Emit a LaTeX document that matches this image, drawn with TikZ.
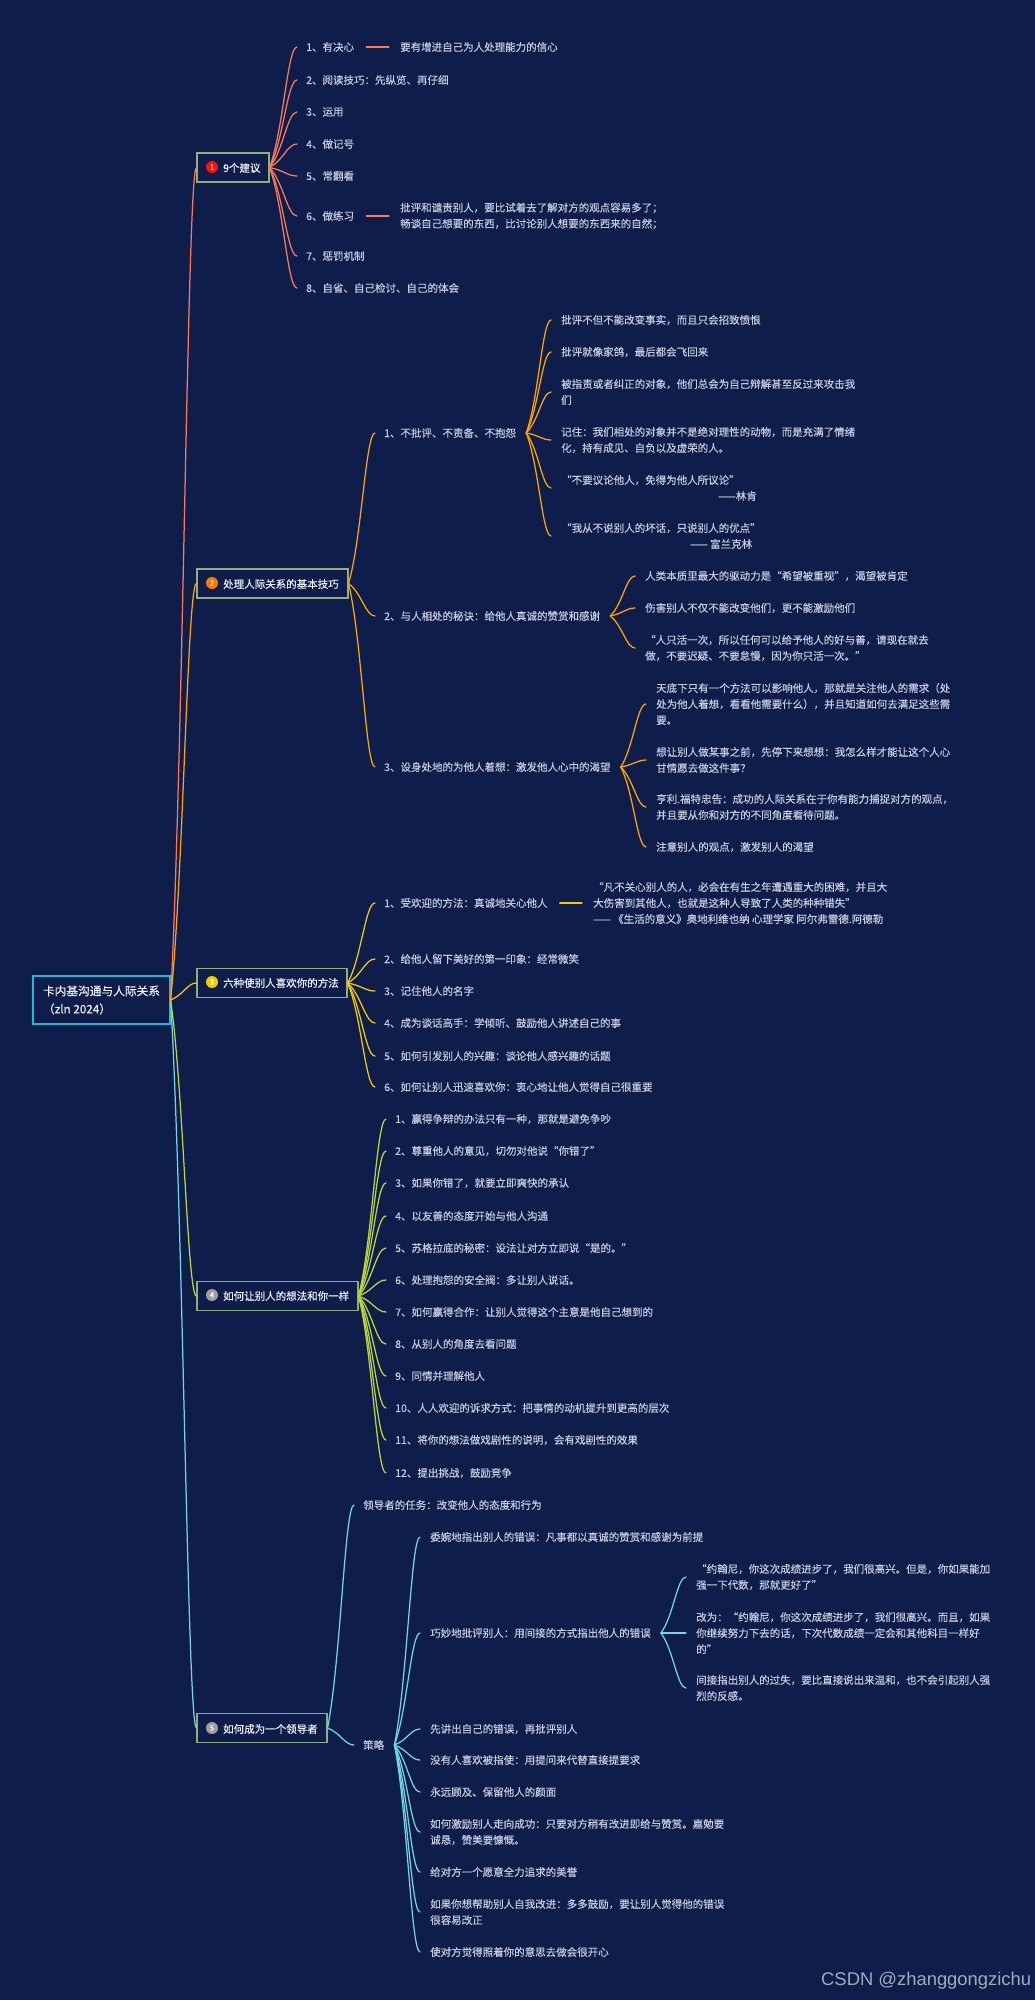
\documentclass[tikz,border=0pt]{standalone}
\usepackage{fontspec}
\setmainfont{Noto Sans CJK SC}[FakeBold=0.35]
\newfontfamily\wmfont{Liberation Sans}
\usetikzlibrary{calc}
\definecolor{bgc}{HTML}{0F1D4A}
\definecolor{txtc}{HTML}{C6CADD}
\definecolor{ttlc}{HTML}{EEF0F8}
\definecolor{hatchc}{HTML}{2A3A68}
\definecolor{boxc}{HTML}{93AE7E}
\definecolor{rootc}{HTML}{1CB8D6}
\definecolor{c1}{HTML}{FB7A5C}
\definecolor{c2}{HTML}{FFA500}
\definecolor{c3}{HTML}{F5CB00}
\definecolor{c4}{HTML}{B9D73C}
\definecolor{c5}{HTML}{72D5E0}
\definecolor{wmc}{HTML}{A4A9BA}
\tikzset{
  txt/.style={anchor=west,inner sep=0pt,align=left,text=txtc,font=\fontsize{10.5}{16}\selectfont},
  ttl/.style={anchor=west,inner sep=0pt,text=ttlc,font=\fontsize{10.5}{16}\selectfont},
  hatched/.style={path picture={\foreach \i in {-60,-54,...,170}{\draw[hatchc,line width=.8pt] ([xshift=\i pt]path picture bounding box.south west) -- ++(60pt,-60pt);}}},
  bbox/.style={draw=boxc,line width=1.1pt,hatched,inner sep=0pt,minimum height=29pt},
  rootbox/.style={draw=rootc,line width=1.2pt,hatched,inner sep=0pt,minimum width=137pt,minimum height=48pt,align=left,text=ttlc,font=\fontsize{11.7}{18}\selectfont},
  badge/.style={circle,inner sep=0pt,minimum size=12pt,text=white,font=\fontsize{7.5}{8}\selectfont},
  wirest/.style={line width=1.25pt,line cap=round},
  wmark/.style={anchor=west,inner sep=0pt,text=wmc,font=\wmfont\fontsize{18.4}{20}\selectfont}
}
\newcommand{\wire}[3]{\draw[#3,wirest] let \p1=(#1),\p2=(#2),\n1={\x2-\x1},\n2={\y2-\y1} in (\p1) .. controls (\x1+.5*\n1,\y1+.3*\n2) and (\x1+.65*\n1,\y2) .. (\p2);}
\newcommand{\fromBox}[3]{\wire{#1.east}{[xshift=-9pt]#2.west}{#3}}
\newcommand{\fromTxt}[3]{\wire{[xshift=10pt]#1.east}{[xshift=-10pt]#2.west}{#3}}
\newcommand{\straightwire}[3]{\draw[#3,wirest] ([xshift=12pt]#1.east) -- ([xshift=-11pt]#2.west);}
\begin{document}
\begin{tikzpicture}[x=1pt,y=-1pt]
\fill[bgc] (0,0) rectangle (1035,2000);
\useasboundingbox (0,0) rectangle (1035,2000);
% root
\node[rootbox] (root) at (101.5,1000) {卡内基沟通与人际关系\\（zln 2024）};
% branch boxes
\node[bbox,minimum width=72pt] (b1) at (233,167.5) {};
\node[bbox,minimum width=151pt] (b2) at (272.5,583.5) {};
\node[bbox,minimum width=150pt] (b3) at (272,983) {};
\node[bbox,minimum width=161pt] (b4) at (277.5,1296) {};
\node[bbox,minimum width=130pt] (b5) at (262,1728) {};
\node[badge,fill=red!85!orange] (g1) at (212,167) {1};
\node[badge,fill=orange!90!red] (g2) at (212,583) {2};
\node[badge,fill=c3] (g3) at (212,982) {3};
\node[badge,fill=gray!75] (g4) at (212,1295) {4};
\node[badge,fill=gray!75] (g5) at (212,1728) {5};
\node[ttl] (t1) at (223,168) {9个建议};
\node[ttl] (t2) at (223,584) {处理人际关系的基本技巧};
\node[ttl] (t3) at (223,983) {六种使别人喜欢你的方法};
\node[ttl] (t4) at (223,1296) {如何让别人的想法和你一样};
\node[ttl] (t5) at (223,1729) {如何成为一个领导者};
% branch 1
\node[txt] (a1) at (306,47) {1、有决心};
\node[txt] (a1x) at (400,47) {要有增进自己为人处理能力的信心};
\node[txt] (a2) at (306,80) {2、阅读技巧：先纵览、再仔细};
\node[txt] (a3) at (306,112) {3、运用};
\node[txt] (a4) at (306,144) {4、做记号};
\node[txt] (a5) at (306,176) {5、常翻看};
\node[txt] (a6) at (306,216) {6、做练习};
\node[txt] (a6x) at (400,216) {批评和谴责别人，要比试着去了解对方的观点容易多了；\\畅谈自己想要的东西，比讨论别人想要的东西来的自然；};
\node[txt] (a7) at (306,256) {7、惩罚机制};
\node[txt] (a8) at (306,288) {8、自省、自己检讨、自己的体会};
% branch 2
\node[txt] (d1) at (384,433) {1、不批评、不责备、不抱怨};
\node[txt] (d11) at (561,320) {批评不但不能改变事实，而且只会招致愤恨};
\node[txt] (d12) at (561,352) {批评就像家鸽，最后都会飞回来};
\node[txt] (d13) at (561,392) {被指责或者纠正的对象，他们总会为自己辩解甚至反过来攻击我\\们};
\node[txt] (d14) at (561,440) {记住：我们相处的对象并不是绝对理性的动物，而是充满了情绪\\化，持有成见、自负以及虚荣的人。};
\node[txt] (d15) at (561,488) {“不要议论他人，免得为他人所议论”\\\hspace*{157pt}——林肯};
\node[txt] (d16) at (561,536) {“我从不说别人的坏话，只说别人的优点”\\\hspace*{129pt}—— 富兰克林};
\node[txt] (d2) at (384,616) {2、与人相处的秘诀：给他人真诚的赞赏和感谢};
\node[txt] (d21) at (645,576) {人类本质里最大的驱动力是“希望被重视”，渴望被肯定};
\node[txt] (d22) at (645,608) {伤害别人不仅不能改变他们，更不能激励他们};
\node[txt] (d23) at (645,648) {“人只活一次，所以任何可以给予他人的好与善，请现在就去\\做，不要迟疑、不要怠慢，因为你只活一次。”};
\node[txt] (d3) at (384,767) {3、设身处地的为他人着想：激发他人心中的渴望};
\node[txt] (d31) at (656,704) {天底下只有一个方法可以影响他人，那就是关注他人的需求（处\\处为他人着想，看看他需要什么），并且知道如何去满足这些需\\要。};
\node[txt] (d32) at (656,760) {想让别人做某事之前，先停下来想想：我怎么样才能让这个人心\\甘情愿去做这件事？};
\node[txt] (d33) at (656,807) {亨利.福特忠告：成功的人际关系在于你有能力捕捉对方的观点，\\并且要从你和对方的不同角度看待问题。};
\node[txt] (d34) at (656,847) {注意别人的观点，激发别人的渴望};
% branch 3
\node[txt] (e1) at (384,903) {1、受欢迎的方法：真诚地关心他人};
\node[txt] (e1x) at (593,903) {“凡不关心别人的人，必会在有生之年遭遇重大的困难，并且大\\大伤害到其他人，也就是这种人导致了人类的种种错失”\\—— 《生活的意义》奥地利维也纳 心理学家 阿尔弗雷德.阿德勒};
\node[txt] (e2) at (384,959) {2、给他人留下美好的第一印象：经常微笑};
\node[txt] (e3) at (384,991) {3、记住他人的名字};
\node[txt] (e4) at (384,1023) {4、成为谈话高手：学倾听、鼓励他人讲述自己的事};
\node[txt] (e5) at (384,1056) {5、如何引发别人的兴趣：谈论他人感兴趣的话题};
\node[txt] (e6) at (384,1087) {6、如何让别人迅速喜欢你：衷心地让他人觉得自己很重要};
% branch 4
\node[txt] (f1) at (395,1119) {1、赢得争辩的办法只有一种，那就是避免争吵};
\node[txt] (f2) at (395,1151) {2、尊重他人的意见，切勿对他说“你错了”};
\node[txt] (f3) at (395,1183) {3、如果你错了，就要立即爽快的承认};
\node[txt] (f4) at (395,1216) {4、以友善的态度开始与他人沟通};
\node[txt] (f5) at (395,1248) {5、苏格拉底的秘密：设法让对方立即说“是的。”};
\node[txt] (f6) at (395,1280) {6、处理抱怨的安全阀：多让别人说话。};
\node[txt] (f7) at (395,1312) {7、如何赢得合作：让别人觉得这个主意是他自己想到的};
\node[txt] (f8) at (395,1344) {8、从别人的角度去看问题};
\node[txt] (f9) at (395,1376) {9、同情并理解他人};
\node[txt] (f10) at (395,1408) {10、人人欢迎的诉求方式：把事情的动机提升到更高的层次};
\node[txt] (f11) at (395,1440) {11、将你的想法做戏剧性的说明，会有戏剧性的效果};
\node[txt] (f12) at (395,1473) {12、提出挑战，鼓励竞争};
% branch 5
\node[txt] (h1) at (363,1505) {领导者的任务：改变他人的态度和行为};
\node[txt] (h2) at (363,1745) {策略};
\node[txt] (k1) at (430,1537) {委婉地指出别人的错误：凡事都以真诚的赞赏和感谢为前提};
\node[txt] (k2) at (430,1633) {巧妙地批评别人：用间接的方式指出他人的错误};
\node[txt] (k21) at (696,1577) {“约翰尼，你这次成绩进步了，我们很高兴。但是，你如果能加\\强一下代数，那就更好了”};
\node[txt] (k22) at (696,1633) {改为：“约翰尼，你这次成绩进步了，我们很高兴。而且，如果\\你继续努力下去的话，下次代数成绩一定会和其他科目一样好\\的”};
\node[txt] (k23) at (696,1688) {间接指出别人的过失，要比直接说出来温和，也不会引起别人强\\烈的反感。};
\node[txt] (k3) at (430,1729) {先讲出自己的错误，再批评别人};
\node[txt] (k4) at (430,1760) {没有人喜欢被指使：用提问来代替直接提要求};
\node[txt] (k5) at (430,1792) {永远顾及、保留他人的颜面};
\node[txt] (k6) at (430,1832) {如何激励别人走向成功：只要对方稍有改进即给与赞赏。嘉勉要\\诚恳，赞美要慷慨。};
\node[txt] (k7) at (430,1872) {给对方一个愿意全力追求的美誉};
\node[txt] (k8) at (430,1912) {如果你想帮助别人自我改进：多多鼓励，要让别人觉得他的错误\\很容易改正};
\node[txt] (k9) at (430,1952) {使对方觉得照着你的意思去做会很开心};
\node[wmark] (wm) at (821,1981) {CSDN @zhanggongzichu};
% trunks
\wire{root.east}{b5.west}{c5}
\wire{root.east}{b4.west}{c4}
\wire{root.east}{b1.west}{c1}
\wire{root.east}{b2.west}{c2}
\wire{root.east}{b3.west}{c3}
% connectors
\foreach \c in {a1,a2,a3,a4,a5,a6,a7,a8}{\fromBox{b1}{\c}{c1}}
\straightwire{a1}{a1x}{c1}
\straightwire{a6}{a6x}{c1}
\foreach \c in {d1,d2,d3}{\fromBox{b2}{\c}{c2}}
\foreach \c in {d11,d12,d13,d14,d15,d16}{\fromTxt{d1}{\c}{c2}}
\foreach \c in {d21,d22,d23}{\fromTxt{d2}{\c}{c2}}
\foreach \c in {d31,d32,d33,d34}{\fromTxt{d3}{\c}{c2}}
\foreach \c in {e1,e2,e3,e4,e5,e6}{\fromBox{b3}{\c}{c3}}
\straightwire{e1}{e1x}{c3}
\foreach \c in {f1,f2,f3,f4,f5,f6,f7,f8,f9,f10,f11,f12}{\fromBox{b4}{\c}{c4}}
\foreach \c in {h1,h2}{\fromBox{b5}{\c}{c5}}
\foreach \c in {k1,k2,k3,k4,k5,k6,k7,k8,k9}{\fromTxt{h2}{\c}{c5}}
\foreach \c in {k21,k22,k23}{\fromTxt{k2}{\c}{c5}}
\end{tikzpicture}
\end{document}
